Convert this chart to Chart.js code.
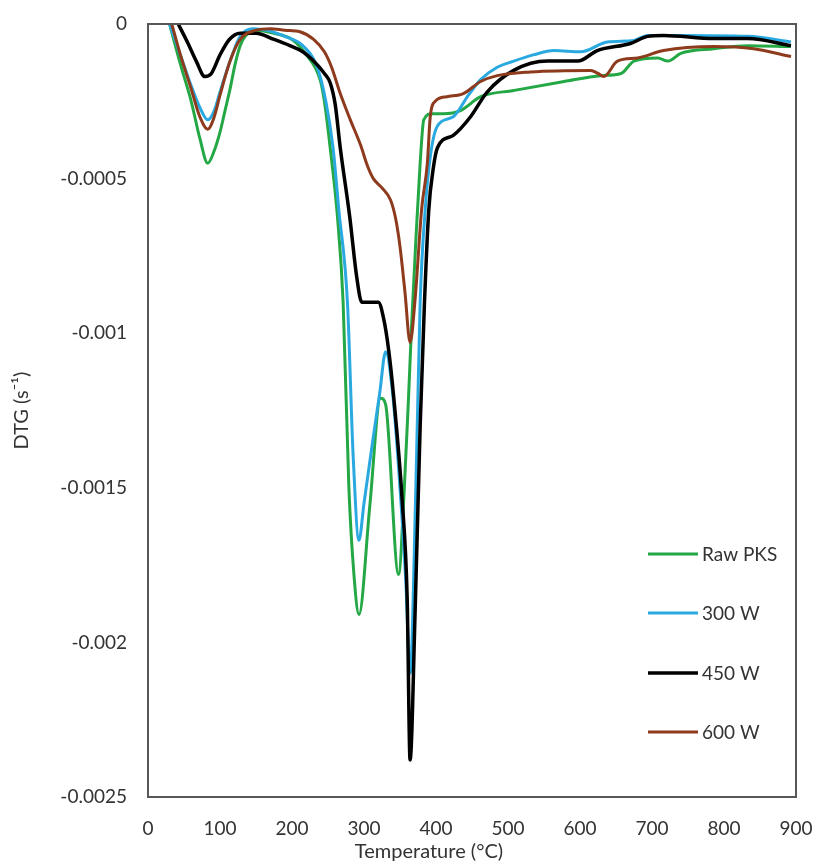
<!DOCTYPE html>
<html>
<head>
<meta charset="utf-8">
<title>DTG curves</title>
<script src="https://cdn.jsdelivr.net/npm/chart.js@4.4.1/dist/chart.umd.min.js"></script>
<style>
  html, body { margin: 0; padding: 0; background: #ffffff; }
  #wrap { width: 816px; height: 865px; }
</style>
</head>
<body>
<div id="wrap"><canvas id="dtgChart" width="816" height="865"></canvas></div>
<script>
// ── Data ──────────────────────────────────────────────────────
var seriesNames = ["Raw PKS", "300 W", "450 W", "600 W"];

var rawTemp = [30, 45, 60, 72, 83, 92, 100, 107, 114, 121, 128, 135, 150, 175, 200, 220, 239, 245, 253, 263, 271, 279, 286, 293,
  308, 323, 330, 348, 356, 362, 366, 372, 378, 383, 395, 410, 434, 462, 508, 578, 629, 657, 675, 708, 722, 740, 786, 833, 893];
var rawDtg = [0, -0.00013, -0.00025, -0.00037, -0.00045, -0.00041, -0.00035, -0.00028, -0.00021, -0.00013, -0.00007,
  -0.00004, -0.00002, -0.00003, -0.00005, -0.0001, -0.00018, -0.00025, -0.0004, -0.00062, -0.0009, -0.0015, -0.00178, -0.00191,
  -0.00156, -0.00121, -0.00123, -0.00178, -0.0015, -0.0012, -0.00098, -0.0007, -0.00045, -0.00031, -0.00029,
  -0.00029, -0.00028, -0.000235, -0.000215, -0.000186, -0.000167, -0.00016, -0.00012, -0.00011, -0.00012,
  -0.000095, -0.00008, -0.00007, -0.000073];

var w300Temp = [30, 45, 60, 72, 83, 92, 100, 114, 128, 146, 165, 190, 215, 235, 247, 257, 265, 277, 285, 293,
  300, 312, 322, 330, 340, 350, 358, 364, 372, 378, 385, 392, 402, 424, 445, 462, 485, 508, 535, 564, 601, 638,
  675, 694, 740, 833, 893];
var w300Dtg = [0, -0.0001, -0.0002, -0.00027, -0.00031, -0.00028, -0.00022, -0.00012, -0.00004, -0.000015, -0.00002,
  -0.00004, -0.00007, -0.00014, -0.00025, -0.0004, -0.0006, -0.0009, -0.0014, -0.00167,
  -0.00155, -0.00135, -0.00119, -0.00106, -0.0012, -0.0015, -0.0018, -0.0021, -0.0015, -0.0009, -0.0006,
  -0.00043, -0.00033, -0.0003, -0.00023, -0.00018, -0.00014, -0.00012, -0.0001, -0.000086, -0.00009, -0.000058,
  -0.000053, -0.000037, -0.000037, -0.00004, -0.000058];

var w450Temp = [42, 55, 67, 79, 88, 100, 113, 128, 150, 175, 197, 215, 230, 245, 253, 260, 267, 280, 290, 297,
  305, 320, 327, 334, 341, 353, 360, 364, 371, 378, 384, 390, 396, 402, 424, 448, 471, 508, 555, 597, 624, 670,
  694, 716, 786, 833, 893];
var w450Dtg = [0, -0.00006, -0.00012, -0.00017, -0.00016, -0.0001, -0.00005, -0.00003, -0.00003, -0.00005, -0.00007,
  -0.00009, -0.00012, -0.00016, -0.00019, -0.00026, -0.0004, -0.00062, -0.00082, -0.0009,
  -0.0009, -0.0009, -0.00095, -0.00105, -0.0012, -0.00154, -0.00186, -0.00238, -0.0019, -0.0013, -0.0009,
  -0.0006, -0.00047, -0.0004, -0.00036, -0.0003, -0.00022, -0.00015, -0.00012, -0.00012, -0.000086, -0.000063,
  -0.00004, -0.000037, -0.000047, -0.000047, -0.00007];

var w600Temp = [33, 45, 60, 72, 83, 92, 100, 114, 128, 150, 170, 190, 211, 230, 245, 255, 267, 281, 295, 305,
  313, 325, 337, 344, 350, 357, 364, 371, 380, 388, 392, 399, 415, 438, 462, 485, 531, 615, 625, 633, 652, 680,
  716, 786, 841, 893];
var w600Dtg = [0, -0.0001, -0.00021, -0.0003, -0.00034, -0.0003, -0.00023, -0.00012, -0.00005, -0.00002, -0.000015,
  -0.00002, -0.000025, -0.00005, -0.00009, -0.00014, -0.000225, -0.00031, -0.00039, -0.00046,
  -0.0005, -0.00053, -0.00057, -0.00063, -0.00072, -0.00087, -0.00103, -0.00089, -0.0006, -0.00045, -0.0003,
  -0.00025, -0.000235, -0.000225, -0.000186, -0.000167, -0.000155, -0.00015, -0.00016, -0.00017, -0.00012,
  -0.00011, -0.000086, -0.000073, -0.00008, -0.000105];

var xTicks = [0, 100, 200, 300, 400, 500, 600, 700, 800, 900];
var yTickLabels = ["0", "-0.0005", "-0.001", "-0.0015", "-0.002", "-0.0025"];

var lineColors = ["#23a845", "#2aa9e0", "#000000", "#8e3b1d"];

// ── helpers ───────────────────────────────────────────────────
function toPoints(xs, ys) {
  return xs.map(function(x, i) { return { x: x, y: ys[i] }; });
}

var FONT = "Lato, 'Open Sans', sans-serif";
var TEXT = "#333333";

// frame round the plot area + legend inside it + x title
var framePlugin = {
  id: "frame",
  afterDatasetsDraw: function(chart) {
    var a = chart.chartArea;
    var ctx = chart.ctx;
    ctx.save();
    ctx.strokeStyle = "#575757";
    ctx.lineWidth = 2;
    ctx.strokeRect(a.left, a.top, a.right - a.left, a.bottom - a.top);

    // legend
    var rows = [554, 613, 673, 732];
    ctx.font = "19px " + FONT;
    ctx.textBaseline = "middle";
    ctx.textAlign = "left";
    chart.data.datasets.forEach(function(ds, i) {
      ctx.strokeStyle = ds.borderColor;
      ctx.lineWidth = ds.borderWidth;
      ctx.beginPath();
      ctx.moveTo(648, rows[i]);
      ctx.lineTo(698, rows[i]);
      ctx.stroke();
      ctx.fillStyle = TEXT;
      ctx.fillText(ds.label, 702, rows[i] + 1);
    });

    // x axis title (sits left of the plot centre in the reference)
    ctx.font = "20px " + FONT;
    ctx.textAlign = "center";
    ctx.fillText("Temperature (°C)", 429, 852);
    ctx.restore();
  }
};

var datasets = [
  { label: seriesNames[0], data: toPoints(rawTemp, rawDtg), borderColor: lineColors[0], borderWidth: 3, order: 4 },
  { label: seriesNames[1], data: toPoints(w300Temp, w300Dtg), borderColor: lineColors[1], borderWidth: 3, order: 3 },
  { label: seriesNames[2], data: toPoints(w450Temp, w450Dtg), borderColor: lineColors[2], borderWidth: 3.5, order: 2 },
  { label: seriesNames[3], data: toPoints(w600Temp, w600Dtg), borderColor: lineColors[3], borderWidth: 3, order: 1 }
];
datasets.forEach(function(ds) {
  ds.pointRadius = 0;
  ds.fill = false;
  ds.cubicInterpolationMode = "monotone";
});

new Chart(document.getElementById("dtgChart"), {
  type: "line",
  data: { datasets: datasets },
  plugins: [framePlugin],
  options: {
    responsive: false,
    animation: false,
    layout: { padding: { top: 24, right: 20, left: 0, bottom: 0 } },
    plugins: {
      legend: { display: false },
      tooltip: { enabled: false }
    },
    scales: {
      x: {
        type: "linear",
        min: 0,
        max: 900,
        afterBuildTicks: function(scale) {
          scale.ticks = xTicks.map(function(v) { return { value: v }; });
        },
        afterFit: function(scale) {
          scale.height = 68;
          scale.paddingLeft = 0;
          scale.paddingRight = 0;
        },
        grid: { display: false, drawTicks: false },
        border: { display: false },
        ticks: { padding: 20, color: TEXT, font: { family: FONT, size: 19 } }
      },
      y: {
        min: -0.0025,
        max: 0,
        afterBuildTicks: function(scale) {
          scale.ticks = yTickLabels.map(function(t) { return { value: parseFloat(t) }; });
        },
        afterFit: function(scale) {
          scale.width = 148;
          scale.paddingTop = 0;
          scale.paddingBottom = 0;
        },
        grid: { display: false, drawTicks: false },
        border: { display: false },
        ticks: {
          padding: 21,
          color: TEXT,
          font: { family: FONT, size: 19 },
          callback: function(value, index) { return yTickLabels[index]; }
        },
        title: {
          display: true,
          text: "DTG (s⁻¹)",
          color: TEXT,
          font: { family: FONT, size: 20 },
          padding: { top: 10, bottom: 0 }
        }
      }
    }
  }
});
</script>
</body>
</html>
